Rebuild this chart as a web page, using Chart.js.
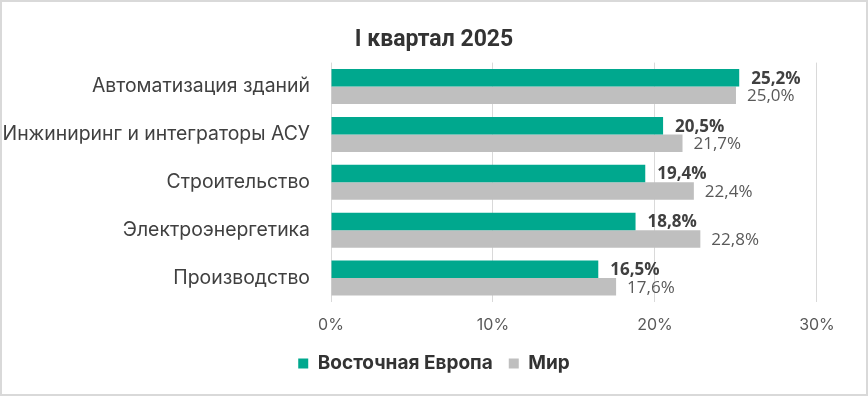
<!DOCTYPE html>
<html><head><meta charset="utf-8">
<script src="https://cdn.jsdelivr.net/npm/chart.js@4/dist/chart.umd.min.js"></script>
<style>
html,body{margin:0;padding:0;background:#fff;}
#wrap{position:relative;width:868px;height:396px;}
#frame{position:absolute;left:0;top:0;width:864px;height:392px;border:2px solid #d9d9d9;pointer-events:none;}
</style></head><body>
<div id="wrap"><canvas id="c" width="868" height="396"></canvas><div id="frame"></div></div>
<script>
const titleText = "I квартал 2025";
const categories = ["Автоматизация зданий","Инжиниринг и интеграторы АСУ","Строительство","Электроэнергетика","Производство"];
const seriesNames = ["Восточная Европа","Мир"];
const easternEurope = [25.2, 20.5, 19.4, 18.8, 16.5];
const world = [25.0, 21.7, 22.4, 22.8, 17.6];
const xTicks = [0, 10, 20, 30];
const xMax = 33.15;

const fmt = v => v.toFixed(1).replace('.', ',') + '%';

const labelPlugin = {
  id: 'valueLabels',
  afterDatasetsDraw(chart) {
    const ctx = chart.ctx;
    chart.data.datasets.forEach((ds, i) => {
      const meta = chart.getDatasetMeta(i);
      meta.data.forEach((el, j) => {
        ctx.save();
        ctx.font = (i === 0 ? 'bold ' : '') + '17px "Open Sans"';
        ctx.fillStyle = i === 0 ? '#404040' : '#595959';
        ctx.textBaseline = 'middle';
        ctx.textAlign = 'left';
        ctx.fillText(fmt(ds.data[j]), el.x + (i === 0 ? 12 : 11), el.y + 1);
        ctx.restore();
      });
    });
  }
};

new Chart(document.getElementById('c'), {
  type: 'bar',
  data: {
    labels: categories,
    datasets: [
      { label: seriesNames[0], data: easternEurope, backgroundColor: '#00A88E' },
      { label: seriesNames[1], data: world, backgroundColor: '#BFBFBF' }
    ]
  },
  options: {
    indexAxis: 'y',
    responsive: false,
    animation: false,
    devicePixelRatio: 1,
    layout: { padding: { left: 0, right: 0, top: 0, bottom: 13 } },
    datasets: { bar: { categoryPercentage: 0.73, barPercentage: 1.0 } },
    scales: {
      x: {
        min: 0, max: xMax,
        afterBuildTicks(s) { s.ticks = xTicks.map(v => ({ value: v })); },
        afterFit(s) { s.height = 36; },
        grid: { color: '#d9d9d9', drawTicks: false, lineWidth: 1 },
        border: { display: false },
        ticks: { padding: 14, color: '#595959', font: { family: 'Inter', size: 16 }, callback: v => v + '%' }
      },
      y: {
        afterFit(s) { s.width = 331; },
        grid: { display: false, drawTicks: false },
        border: { display: false },
        ticks: { padding: 21, color: '#404040', font: { family: 'Inter', size: 19.4 } }
      }
    },
    plugins: {
      title: {
        display: true, text: titleText, color: '#333333',
        font: { family: 'Roboto', size: 23, weight: 'bold' },
        padding: { top: 26, bottom: 9 }
      },
      legend: {
        position: 'bottom',
        labels: {
          boxWidth: 10, boxHeight: 10, padding: 16, color: '#333333',
          font: { family: 'Inter', size: 19, weight: 'bold' }
        }
      },
      tooltip: { enabled: false }
    }
  },
  plugins: [labelPlugin]
});
</script>
</body></html>
